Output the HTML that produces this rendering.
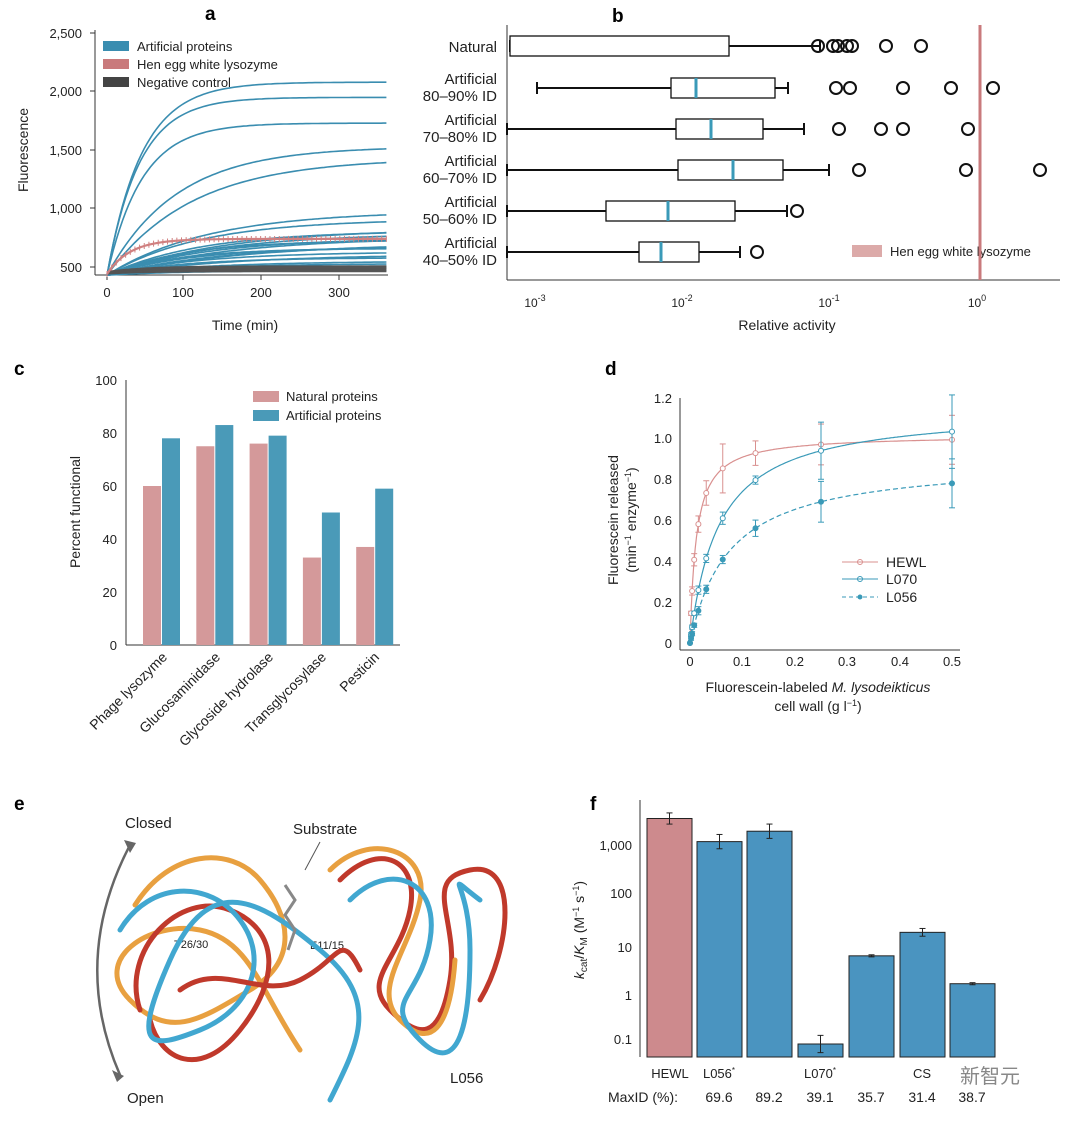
<!DOCTYPE html>
<html><head><meta charset="utf-8"><style>
body{margin:0;background:#fff;}
svg{font-family:"Liberation Sans",Arial,sans-serif;}
</style></head><body>
<svg id="s" width="1080" height="1121" viewBox="0 0 1080 1121" xmlns="http://www.w3.org/2000/svg">
<rect width="1080" height="1121" fill="#fff"/>
<g font-weight="bold" font-size="19"><text x="205" y="20">a</text><text x="612" y="22">b</text><text x="14" y="375">c</text><text x="605" y="375">d</text><text x="14" y="810">e</text><text x="590" y="810">f</text></g>

<!-- Panel a -->
<g font-size="13" fill="#222">
<line x1="95" y1="30" x2="95" y2="275" stroke="#333"/><line x1="95" y1="275" x2="388" y2="275" stroke="#333"/>
<g text-anchor="end"><text x="82" y="38">2,500</text><text x="82" y="96">2,000</text><text x="82" y="155">1,500</text><text x="82" y="213">1,000</text><text x="82" y="272">500</text></g>
<g stroke="#333"><line x1="90" y1="33" x2="95" y2="33"/><line x1="90" y1="91" x2="95" y2="91"/><line x1="90" y1="150" x2="95" y2="150"/><line x1="90" y1="208" x2="95" y2="208"/><line x1="90" y1="267" x2="95" y2="267"/>
<line x1="107" y1="275" x2="107" y2="280"/><line x1="183" y1="275" x2="183" y2="280"/><line x1="261" y1="275" x2="261" y2="280"/><line x1="339" y1="275" x2="339" y2="280"/></g>
<g text-anchor="middle"><text x="107" y="297">0</text><text x="183" y="297">100</text><text x="261" y="297">200</text><text x="339" y="297">300</text></g>
<text x="245" y="330" text-anchor="middle" font-size="14">Time (min)</text>
<text transform="translate(28,150) rotate(-90)" text-anchor="middle" font-size="14">Fluorescence</text>
<rect x="103" y="41" width="26" height="10" fill="#3a8db0"/><text x="137" y="51">Artificial proteins</text>
<rect x="103" y="59" width="26" height="10" fill="#c97a7c"/><text x="137" y="69">Hen egg white lysozyme</text>
<rect x="103" y="77" width="26" height="10" fill="#444"/><text x="137" y="87">Negative control</text>
</g>
<g id="acurves" fill="none" stroke-width="1.6"></g>

<!-- Panel b -->
<g font-size="15" fill="#222">
<line x1="507" y1="25" x2="507" y2="280" stroke="#333"/><line x1="507" y1="280" x2="1060" y2="280" stroke="#333"/>
<g text-anchor="end"><text x="497" y="52">Natural</text>
<text x="497" y="84">Artificial</text><text x="497" y="101">80–90% ID</text>
<text x="497" y="125">Artificial</text><text x="497" y="142">70–80% ID</text>
<text x="497" y="166">Artificial</text><text x="497" y="183">60–70% ID</text>
<text x="497" y="207">Artificial</text><text x="497" y="224">50–60% ID</text>
<text x="497" y="248">Artificial</text><text x="497" y="265">40–50% ID</text></g>
<g font-size="12" text-anchor="middle"><text x="535" y="307">10<tspan dy="-6" font-size="9">-3</tspan></text><text x="682" y="307">10<tspan dy="-6" font-size="9">-2</tspan></text><text x="829" y="307">10<tspan dy="-6" font-size="9">-1</tspan></text><text x="977" y="307">10<tspan dy="-6" font-size="9">0</tspan></text></g>
<text x="787" y="330" text-anchor="middle" font-size="14">Relative activity</text>
<rect x="852" y="245" width="30" height="12" fill="#dcaaa9"/><text x="890" y="256" font-size="13">Hen egg white lysozyme</text>
</g>
<g id="bplot"></g>
<line x1="980" y1="25" x2="980" y2="280" stroke="#c97a7c" stroke-width="3"/>

<!-- Panel c -->
<g font-size="13" fill="#222">
<line x1="126" y1="380" x2="126" y2="645" stroke="#333"/><line x1="126" y1="645" x2="400" y2="645" stroke="#333"/>
<g text-anchor="end"><text x="117" y="385">100</text><text x="117" y="438">80</text><text x="117" y="491">60</text><text x="117" y="544">40</text><text x="117" y="597">20</text><text x="117" y="650">0</text></g>
<text transform="translate(80,512) rotate(-90)" text-anchor="middle" font-size="14">Percent functional</text>
<rect x="253" y="391" width="26" height="11" fill="#d4999a"/><text x="286" y="401">Natural proteins</text>
<rect x="253" y="410" width="26" height="11" fill="#4a9ab8"/><text x="286" y="420">Artificial proteins</text>
<g font-size="14" text-anchor="end"><text transform="translate(168,658) rotate(-45)">Phage lysozyme</text><text transform="translate(221,658) rotate(-45)">Glucosaminidase</text><text transform="translate(274,658) rotate(-45)">Glycoside hydrolase</text><text transform="translate(327,658) rotate(-45)">Transglycosylase</text><text transform="translate(380,658) rotate(-45)">Pesticin</text></g>
</g>
<g id="cbars"></g>

<!-- Panel d -->
<g font-size="13" fill="#222">
<line x1="680" y1="398" x2="680" y2="650" stroke="#333"/><line x1="680" y1="650" x2="960" y2="650" stroke="#333"/>
<g text-anchor="end"><text x="672" y="403">1.2</text><text x="672" y="443">1.0</text><text x="672" y="484">0.8</text><text x="672" y="525">0.6</text><text x="672" y="566">0.4</text><text x="672" y="607">0.2</text><text x="672" y="648">0</text></g>
<g text-anchor="middle"><text x="690" y="666">0</text><text x="742" y="666">0.1</text><text x="795" y="666">0.2</text><text x="847" y="666">0.3</text><text x="900" y="666">0.4</text><text x="952" y="666">0.5</text></g>
<text x="818" y="692" text-anchor="middle" font-size="14">Fluorescein-labeled <tspan font-style="italic">M. lysodeikticus</tspan></text>
<text x="818" y="711" text-anchor="middle" font-size="14">cell wall (g l<tspan dy="-5" font-size="9">−1</tspan><tspan dy="5">)</tspan></text>
<text transform="translate(618,520) rotate(-90)" text-anchor="middle" font-size="14">Fluorescein released</text>
<text transform="translate(636,520) rotate(-90)" text-anchor="middle" font-size="14">(min<tspan dy="-5" font-size="9">−1</tspan><tspan dy="5"> enzyme</tspan><tspan dy="-5" font-size="9">−1</tspan><tspan dy="5">)</tspan></text>
<g font-size="14"><line x1="842" y1="562" x2="878" y2="562" stroke="#d9908f"/><circle cx="860" cy="562" r="2.5" fill="none" stroke="#d9908f"/><text x="886" y="567">HEWL</text>
<line x1="842" y1="579" x2="878" y2="579" stroke="#3a9ab8"/><circle cx="860" cy="579" r="2.5" fill="none" stroke="#3a9ab8"/><text x="886" y="584">L070</text>
<line x1="842" y1="597" x2="878" y2="597" stroke="#3a9ab8" stroke-dasharray="4,3"/><circle cx="860" cy="597" r="2.5" fill="#3a9ab8"/><text x="886" y="602">L056</text></g>
</g>
<g id="dplot"></g>

<!-- Panel e -->
<g font-size="15" fill="#222"><text x="125" y="828">Closed</text><text x="293" y="834">Substrate</text><text x="127" y="1103">Open</text><text x="450" y="1083">L056</text>
<text x="174" y="948" font-size="11">T26/30</text><rect x="307" y="937" width="50" height="15" fill="#fff" opacity=".85"/><text x="310" y="949" font-size="11">E11/15</text></g>
<path d="M130 845 Q70 960 120 1075" fill="none" stroke="#666" stroke-width="2.5"/>
<path d="M124 840 L136 843 L130 853 Z M112 1070 L124 1076 L117 1082 Z" fill="#666"/>
<line x1="320" y1="842" x2="305" y2="870" stroke="#555"/>
<g fill="none" stroke-width="5" stroke-linecap="round">
<path d="M135 905 C170 850 230 845 260 880 S300 960 250 990 S170 1040 130 1000 S150 920 200 930 S260 990 300 1050" stroke="#e8a040"/>
<path d="M140 1010 C120 950 180 890 230 910 S280 980 240 1030 S160 1060 150 1020" stroke="#c0392b"/>
<path d="M340 880 C380 840 420 860 410 910 S360 980 390 1010 S440 1040 450 980 S420 880 470 870 S510 950 480 1000" stroke="#c0392b"/>
<path d="M330 870 C370 830 430 850 420 900 S370 990 400 1020 S450 1030 455 960" stroke="#e8a040"/>
<path d="M120 930 C150 880 210 880 240 920 S250 1010 200 1030 S130 1050 170 960 S260 900 320 950 S360 1040 330 1100" stroke="#41a7d0"/>
<path d="M350 900 C390 860 440 880 430 940 S380 1000 420 1040 S470 1020 470 950 S440 870 480 900" stroke="#41a7d0"/>
<path d="M180 990 C220 960 260 1000 300 980 S340 930 360 970" stroke="#c0392b"/>
</g>
<g stroke="#888" stroke-width="3" fill="none"><path d="M285 885 L295 900 L285 915 L295 930 L288 950"/></g>

<!-- Panel f -->
<g font-size="13" fill="#222">
<line x1="640" y1="800" x2="640" y2="1057" stroke="#333"/>
<g text-anchor="end"><text x="632" y="850">1,000</text><text x="632" y="898">100</text><text x="632" y="952">10</text><text x="632" y="1000">1</text><text x="632" y="1044">0.1</text></g>
<text transform="translate(584,930) rotate(-90)" text-anchor="middle" font-size="14"><tspan font-style="italic">k</tspan><tspan font-size="10" dy="3">cat</tspan><tspan dy="-3">/</tspan><tspan font-style="italic">K</tspan><tspan font-size="10" dy="3">M</tspan><tspan dy="-3"> (M</tspan><tspan dy="-5" font-size="9">−1</tspan><tspan dy="5"> s</tspan><tspan dy="-5" font-size="9">−1</tspan><tspan dy="5">)</tspan></text>
<g text-anchor="middle"><text x="670" y="1078">HEWL</text><text x="719" y="1078">L056<tspan font-size="8" dy="-5">*</tspan></text><text x="820" y="1078">L070<tspan font-size="8" dy="-5">*</tspan></text><text x="922" y="1078">CS</text></g>
<g font-size="14"><text x="608" y="1102">MaxID (%):</text><g text-anchor="middle"><text x="719" y="1102">69.6</text><text x="769" y="1102">89.2</text><text x="820" y="1102">39.1</text><text x="871" y="1102">35.7</text><text x="922" y="1102">31.4</text><text x="972" y="1102">38.7</text></g></g>
<text x="960" y="1083" font-size="20" fill="#888">新智元</text>
</g>
<g id="fbars"></g>
</svg>
<script>
const NS="http://www.w3.org/2000/svg";
function el(p,t,a){const e=document.createElementNS(NS,t);for(const k in a)e.setAttribute(k,a[k]);document.getElementById(p).appendChild(e);return e;}
// panel a
const px=t=>107+t*0.776, py=F=>267-(F-500)*0.117;
function curve(A,tau,b,col,w){let d="";for(let t=0;t<=360;t+=4){const F=b+A*(1-Math.exp(-t/tau));d+=(t?"L":"M")+px(t).toFixed(1)+" "+py(F).toFixed(1);}el("acurves","path",{d,stroke:col,"stroke-width":w||1.6});}
[[1650,45],[1520,42],[1300,45],[1100,90],[1000,110],[550,130],[480,120],[400,150],[380,120],[360,140],[320,130],[300,100],[260,150],[240,110],[200,120],[180,160],[150,100],[120,130],[100,120],[80,100],[60,80],[40,100],[330,160],[280,180],[230,90]].forEach(c=>curve(c[0],c[1],430,"#3a8db0"));
for(let i=0;i<8;i++)curve(20+i*4,50,440+i*3,"#555",1.2);
curve(300,30,440,"#d08080",2.2);
{let d="";for(let t=0;t<=360;t+=6){const x=px(t),y=py(440+300*(1-Math.exp(-t/30)));d+=`M${x} ${y-3}L${x} ${y+3}`;}el("acurves","path",{d,stroke:"#d08080","stroke-width":1});}
// panel b
const rows=[[46,510,510,729,null,820,[818,833,838,847,852,886,921]],[88,537,671,775,696,788,[836,850,903,951,993]],[129,507,676,763,711,804,[839,881,903,968]],[170,507,678,783,733,829,[859,966,1040]],[211,507,606,735,668,787,[797]],[252,507,639,699,661,740,[757]]];
rows.forEach(r=>{const[y,w0,b0,b1,m,w1,o]=r;
el("bplot","line",{x1:w0,y1:y,x2:b0,y2:y,stroke:"#111","stroke-width":2});el("bplot","line",{x1:b1,y1:y,x2:w1,y2:y,stroke:"#111","stroke-width":2});
el("bplot","line",{x1:w0,y1:y-6,x2:w0,y2:y+6,stroke:"#111","stroke-width":2});el("bplot","line",{x1:w1,y1:y-6,x2:w1,y2:y+6,stroke:"#111","stroke-width":2});
el("bplot","rect",{x:b0,y:y-10,width:b1-b0,height:20,fill:"#fff",stroke:"#111","stroke-width":1.3});
if(m)el("bplot","line",{x1:m,y1:y-10,x2:m,y2:y+10,stroke:"#3a9ab8","stroke-width":3});
o.forEach(x=>el("bplot","circle",{cx:x,cy:y,r:6,fill:"none",stroke:"#111","stroke-width":2}));});
// panel c
const nat=[60,75,76,33,37],art=[78,83,79,50,59];
nat.forEach((v,i)=>{const c=162+i*53.3;el("cbars","rect",{x:c-19,y:645-v*2.65,width:18,height:v*2.65,fill:"#d4999a"});el("cbars","rect",{x:c,y:645-art[i]*2.65,width:18,height:art[i]*2.65,fill:"#4a9ab8"});});
// panel d
const dx=x=>690+x*524, dy=v=>643-v*204;
function mm(V,K,col,dash,pts,err,filled){let d="";for(let i=0;i<=200;i++){const x=0.5*i/200;d+=(i?"L":"M")+dx(x).toFixed(1)+" "+dy(V*x/(K+x)).toFixed(1);}
const a={d,fill:"none",stroke:col,"stroke-width":1.2};if(dash)a["stroke-dasharray"]="5,3";el("dplot","path",a);
pts.forEach((x,i)=>{const v=V*x/(K+x),e=err[i];el("dplot","line",{x1:dx(x),y1:dy(v-e),x2:dx(x),y2:dy(v+e),stroke:col});el("dplot","line",{x1:dx(x)-3,y1:dy(v-e),x2:dx(x)+3,y2:dy(v-e),stroke:col});el("dplot","line",{x1:dx(x)-3,y1:dy(v+e),x2:dx(x)+3,y2:dy(v+e),stroke:col});el("dplot","circle",{cx:dx(x),cy:dy(v),r:2.5,fill:filled?col:"#fff",stroke:col});});}
const P=[0,0.002,0.004,0.008,0.016,0.031,0.0625,0.125,0.25,0.5];
mm(1.02,0.012,"#d9908f",false,P,[0,.01,.02,.03,.04,.06,.12,.06,.1,.12],false);
mm(1.15,0.055,"#3a9ab8",false,P,[0,.01,.01,.01,.02,.02,.03,.02,.14,.18],false);
mm(0.9,0.075,"#3a9ab8",true,P,[0,.01,.01,.01,.02,.02,.02,.04,.1,.12],true);
// panel f
const fy=v=>995-Math.log10(v)*49;
[[647,4000,"#cd8a8d",1.3],[697,1350,"#4a94c0",1.4],[747,2200,"#4a94c0",1.4],[798,0.1,"#4a94c0",1.5],[849,6.3,"#4a94c0",1.05],[900,19,"#4a94c0",1.2],[950,1.7,"#4a94c0",1.05]].forEach(b=>{const[x,v,c,e]=b;const y=fy(v);
el("fbars","rect",{x,y,width:45,height:1057-y,fill:c,stroke:"#222","stroke-width":1});const x0=x+22.5;
el("fbars","line",{x1:x0,y1:fy(v*e),x2:x0,y2:fy(v/e),stroke:"#222"});el("fbars","line",{x1:x0-3,y1:fy(v*e),x2:x0+3,y2:fy(v*e),stroke:"#222"});el("fbars","line",{x1:x0-3,y1:fy(v/e),x2:x0+3,y2:fy(v/e),stroke:"#222"});});
</script>
</body></html>
